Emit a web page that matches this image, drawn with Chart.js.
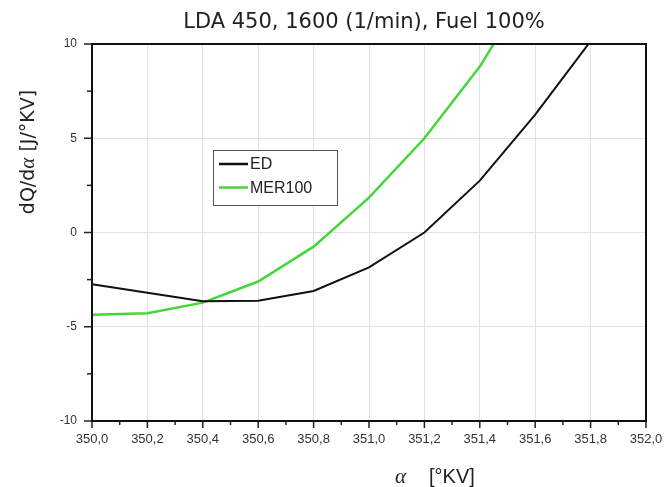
<!DOCTYPE html>
<html>
<head>
<meta charset="utf-8">
<script src="https://cdn.jsdelivr.net/npm/chart.js@4"></script>
<style>
  html, body { margin: 0; padding: 0; background: #fff; }
</style>
</head>
<body>
<canvas id="myChart" width="665" height="487"></canvas>
<script>
// crank angle [°KV]
const alpha = [350.0, 350.2, 350.4, 350.6, 350.8, 351.0, 351.2, 351.4, 351.6, 351.8];
// heat release rate dQ/dα [J/°KV]
const edValues = [-2.75, -3.2, -3.65, -3.62, -3.1, -1.85, 0.0, 2.75, 6.25, 10.15];
const merValues = [-4.36, -4.28, -3.72, -2.6, -0.75, 1.85, 5.0, 8.8, 13.6, null];

const xTickValues = [350.0, 350.2, 350.4, 350.6, 350.8, 351.0, 351.2, 351.4, 351.6, 351.8, 352.0];
const yTickValues = [-10, -5, 0, 5, 10];

const seriesNames = ['ED', 'MER100'];
const chartTitle = 'LDA 450, 1600 (1/min), Fuel 100%';

function toPoints(ys) {
    return alpha.map((a, i) => ({ x: a, y: ys[i] })).filter(p => p.y !== null);
}

// title, axis titles, frame, minor ticks and legend drawn by hand
const decor = {
    id: 'decor',
    afterDraw(chart) {
        const ctx = chart.ctx;
        const a = chart.chartArea;
        const x = chart.scales.x;
        const y = chart.scales.y;
        ctx.save();

        // tick marks
        ctx.strokeStyle = '#222';
        ctx.lineWidth = 1.5;
        const seg = (x1, y1, x2, y2) => {
            ctx.beginPath(); ctx.moveTo(x1, y1); ctx.lineTo(x2, y2); ctx.stroke();
        };
        xTickValues.forEach((v, i) => {
            const px = x.getPixelForValue(v);
            seg(px, a.bottom, px, a.bottom + 7);
            if (i < xTickValues.length - 1) {
                const mx = x.getPixelForValue((v + xTickValues[i + 1]) / 2);
                seg(mx, a.bottom, mx, a.bottom + 4);
            }
        });
        yTickValues.forEach((v, i) => {
            const py = y.getPixelForValue(v);
            seg(a.left, py, a.left - 8, py);
            if (i < yTickValues.length - 1) {
                const my = y.getPixelForValue((v + yTickValues[i + 1]) / 2);
                seg(a.left, my, a.left - 5, my);
            }
        });

        // frame
        ctx.strokeStyle = '#111';
        ctx.lineWidth = 2;
        ctx.strokeRect(a.left, a.top, a.right - a.left, a.bottom - a.top);

        // title
        ctx.fillStyle = '#222';
        ctx.font = '21px "DejaVu Sans"';
        ctx.textAlign = 'center';
        ctx.textBaseline = 'alphabetic';
        ctx.fillText(chartTitle, 364, 28);

        // x axis title
        ctx.textAlign = 'left';
        ctx.font = 'italic 21px "Liberation Serif"';
        ctx.fillText('α', 395, 483);
        ctx.font = '20px "Liberation Sans"';
        ctx.fillText('[°KV]', 429, 483);

        // y axis title
        ctx.save();
        ctx.translate(34, 152);
        ctx.rotate(-Math.PI / 2);
        const parts = [
            ['dQ/d', '19px "DejaVu Sans"'],
            ['α', 'italic 21px "Liberation Serif"'],
            [' [J/°KV]', '19px "DejaVu Sans"']
        ];
        let total = 0;
        parts.forEach(p => { ctx.font = p[1]; total += ctx.measureText(p[0]).width; });
        let cx = -total / 2;
        parts.forEach(p => {
            ctx.font = p[1];
            ctx.fillText(p[0], cx, 0);
            cx += ctx.measureText(p[0]).width;
        });
        ctx.restore();

        // legend
        ctx.fillStyle = '#fff';
        ctx.fillRect(213, 150, 124, 55);
        ctx.strokeStyle = '#555';
        ctx.lineWidth = 1;
        ctx.strokeRect(213.5, 150.5, 124, 55);
        ctx.font = '16px "Liberation Sans"';
        ctx.textBaseline = 'middle';
        chart.data.datasets.forEach((ds, i) => {
            const ly = 164 + i * 23.5;
            ctx.strokeStyle = ds.borderColor;
            ctx.lineWidth = 2.5;
            seg(219, ly, 248, ly);
            ctx.fillStyle = '#222';
            ctx.fillText(ds.label, 250, ly + 1);
        });

        ctx.restore();
    }
};

const ctx = document.getElementById('myChart').getContext('2d');
const chart = new Chart(ctx, {
    type: 'line',
    data: {
        datasets: [{
            label: seriesNames[0],
            data: toPoints(edValues),
            borderColor: '#111111',
            borderWidth: 2,
            pointRadius: 0,
            tension: 0
        }, {
            label: seriesNames[1],
            data: toPoints(merValues),
            borderColor: '#44d63a',
            borderWidth: 2.5,
            pointRadius: 0,
            tension: 0
        }]
    },
    options: {
        responsive: false,
        animation: false,
        devicePixelRatio: 1,
        layout: { padding: { top: 44, right: 19, left: 0, bottom: 0 } },
        plugins: {
            legend: { display: false },
            title: { display: false },
            tooltip: { enabled: false }
        },
        scales: {
            x: {
                type: 'linear',
                min: 350,
                max: 352,
                afterBuildTicks: s => { s.ticks = xTickValues.map(v => ({ value: v })); },
                afterFit: s => { s.height = 66; s.paddingLeft = 0; s.paddingRight = 0; },
                grid: { color: '#e2e2e2', lineWidth: 1, drawTicks: false },
                border: { display: false },
                ticks: {
                    padding: 11,
                    maxRotation: 0,
                    autoSkip: false,
                    color: '#333',
                    font: { family: 'Liberation Sans', size: 13 },
                    callback: v => v.toFixed(1).replace('.', ',')
                }
            },
            y: {
                min: -10,
                max: 10,
                afterBuildTicks: s => { s.ticks = yTickValues.map(v => ({ value: v })); },
                afterFit: s => { s.width = 92; s.paddingTop = 0; s.paddingBottom = 0; },
                grid: { color: '#e2e2e2', lineWidth: 1, drawTicks: false },
                border: { display: false },
                ticks: {
                    padding: 15,
                    color: '#333',
                    font: { family: 'Liberation Sans', size: 12 }
                }
            }
        }
    },
    plugins: [decor]
});
</script>
</body>
</html>
